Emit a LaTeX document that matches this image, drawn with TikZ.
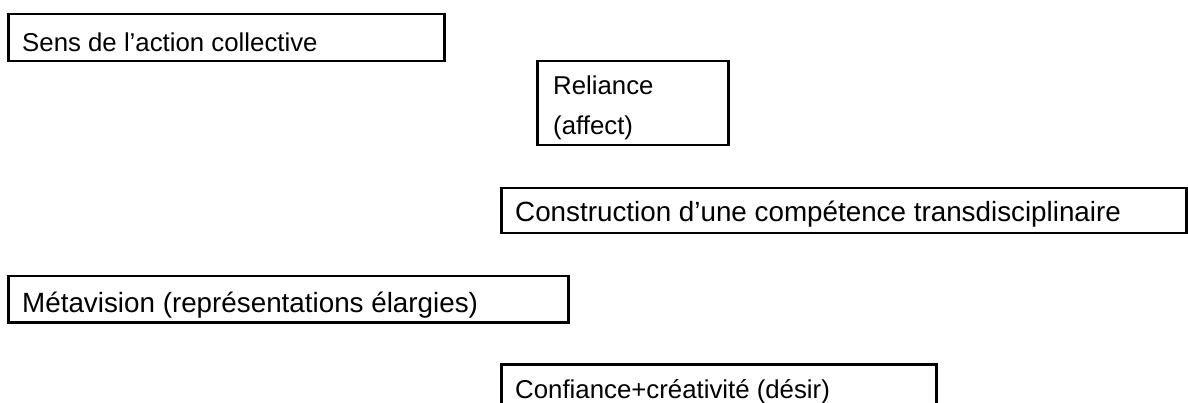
\documentclass[tikz,border=0pt]{standalone}
\usepackage{fontspec}
\setmainfont{Liberation Sans}
\usetikzlibrary{calc}

\begin{document}
\begin{tikzpicture}[x=1pt,y=1pt,
    box/.style={draw,rectangle,line width=2.5pt,anchor=north west,inner sep=0pt},
    txt/.style={anchor=base west,inner sep=0pt,font=\fontsize{25.8}{40}\selectfont,align=left},
    bigtxt/.style={txt,font=\fontsize{27.8}{40}\selectfont}]
      \useasboundingbox (0,0) rectangle (1188,-403);
      \node [box,minimum width=436,minimum height=47] (sens) at (7,-13) {};
      \node [txt] (senst) at ($(sens.south west)+(15,11)$) {Sens de l’action collective};
      \node [box,minimum width=191,minimum height=84] (rel) at (536,-60) {};
      \node [txt] (relt) at ($(rel.north west)+(17,-75)$) {Reliance\\(affect)};
      \node [box,minimum width=685,minimum height=45] (comp) at (500,-187) {};
      \node [bigtxt] (compt) at ($(comp.south west)+(15,13)$) {Construction d’une compétence transdisciplinaire};
      \node [box,minimum width=560,minimum height=46] (meta) at (7,-275) {};
      \node [bigtxt] (metat) at ($(meta.south west)+(15,11)$) {Métavision (représentations élargies)};
      \node [box,minimum width=435,minimum height=47] (conf) at (500,-363) {};
      \node [txt] (conft) at ($(conf.north west)+(15,-35)$) {Confiance+créativité (désir)};
\end{tikzpicture}
\end{document}
